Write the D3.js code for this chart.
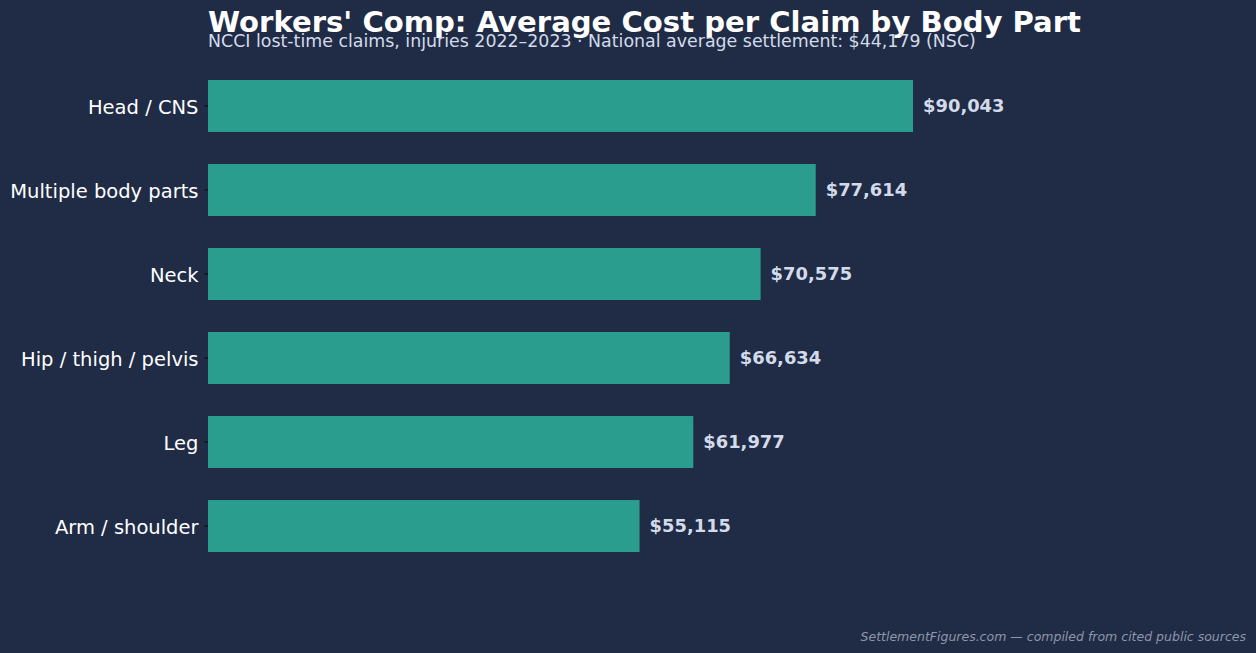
<!DOCTYPE html>
<html><head><meta charset="utf-8">
<script src="https://cdn.jsdelivr.net/npm/d3@7"></script>
<style>
html,body{margin:0;padding:0;background:#202b45;}
svg{display:block;}
</style></head>
<body>
<script>
const categories = ["Head / CNS","Multiple body parts","Neck","Hip / thigh / pelvis","Leg","Arm / shoulder"];
const values = [90043, 77614, 70575, 66634, 61977, 55115];
const title = "Workers' Comp: Average Cost per Claim by Body Part";
const subtitle = "NCCI lost-time claims, injuries 2022–2023 · National average settlement: $44,179 (NSC)";
const footer = "SettlementFigures.com — compiled from cited public sources";

const W = 1256, H = 653;
const mLeft = 208, mTop = 64, mBottom = 568;
const svg = d3.select("body").append("svg").attr("width", W).attr("height", H)
  .style("font-family", "'DejaVu Sans', sans-serif");
svg.append("rect").attr("width", W).attr("height", H).attr("fill", "#202b45");

const x = d3.scaleLinear().domain([0, 100000]).range([mLeft, mLeft + 783]);
const y = d3.scaleBand().domain(categories).range([mTop, mBottom]).paddingInner(0.381).paddingOuter(0.19);

svg.selectAll("rect.bar").data(values).join("rect").attr("class","bar")
  .attr("x", x(0)).attr("y", (d,i)=>y(categories[i]))
  .attr("width", d=>x(d)-x(0)).attr("height", y.bandwidth())
  .attr("fill", "#2a9d8f");

const yAxis = svg.append("g").attr("transform", `translate(${mLeft},0)`)
  .call(d3.axisLeft(y).tickSize(3.5).tickPadding(6));
yAxis.select(".domain").remove();
yAxis.selectAll(".tick line").attr("stroke", "#000").attr("stroke-width", 0.8);
yAxis.selectAll(".tick text").attr("fill", "#ffffff").style("font-size", "19.5px")
  .attr("dy", "0.4em").style("font-family", "'DejaVu Sans', sans-serif");

svg.selectAll("text.val").data(values).join("text").attr("class","val")
  .attr("x", d=>x(d)+10).attr("y", (d,i)=>y(categories[i])+y.bandwidth()/2)
  .attr("dy", "0.35em").attr("fill", "#d3dbeb").style("font-size", "17.9px").style("font-weight", "bold")
  .text(d=>"$"+d3.format(",")(d));

svg.append("text").attr("x", mLeft).attr("y", 32).attr("fill", "#ffffff")
  .style("font-size", "29.1px").style("font-weight", "bold").text(title);
svg.append("text").attr("x", mLeft).attr("y", 47).attr("fill", "#d3dbeb")
  .style("font-size", "17.4px").text(subtitle);
svg.append("text").attr("x", 1246).attr("y", 641).attr("text-anchor", "end").attr("fill", "#8d97ab")
  .style("font-size", "12.5px").style("font-style", "italic").text(footer);
</script>
</body></html>
